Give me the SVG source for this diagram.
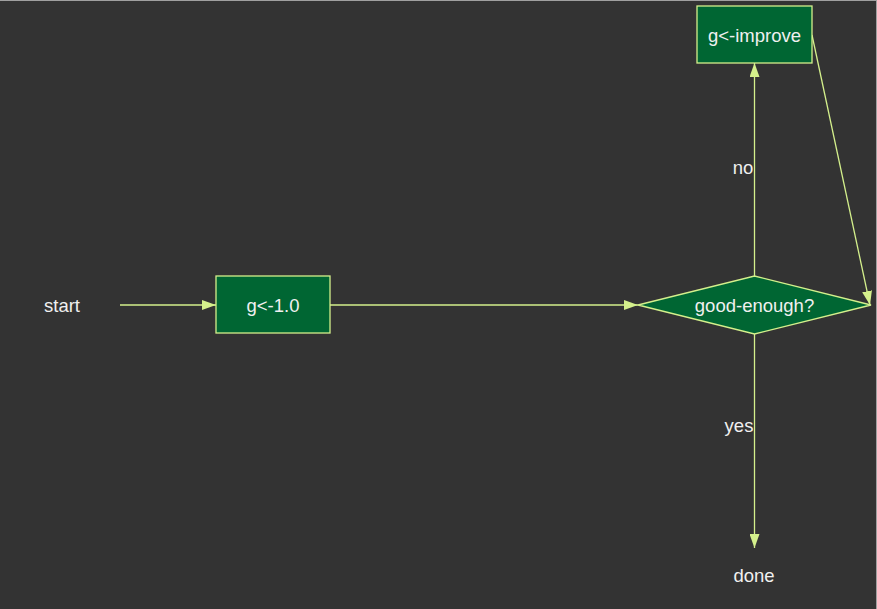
<svg xmlns="http://www.w3.org/2000/svg" width="877" height="609" viewBox="0 0 877 609">
  <style>
    .bg { fill: #333333; }
    .frame { stroke: #a0a0a0; stroke-width: 1; }
    .node { fill: #006633; stroke: #d4f08c; stroke-width: 1.3; }
    .edge { fill: none; stroke: #d4f08c; stroke-width: 1.3; }
    .label { font-family: "Liberation Sans", Arial, sans-serif; font-size: 18.5px; fill: #f0f0f0; text-anchor: middle; dominant-baseline: central; }
  </style>
  <defs>
    <marker id="arrow" viewBox="0 0 14 10" refX="14" refY="5" markerWidth="14" markerHeight="10" markerUnits="userSpaceOnUse" orient="auto">
      <path d="M0,0 L14,5 L0,10 Z" fill="#d4f08c"/>
    </marker>
  </defs>

  <rect class="bg" x="0" y="0" width="877" height="609"/>
  <line class="frame" x1="0" y1="0.5" x2="877" y2="0.5"/>
  <line class="frame" x1="876.5" y1="0" x2="876.5" y2="609"/>

  <g id="connectors">
    <line class="edge" x1="120" y1="305" x2="216" y2="305" marker-end="url(#arrow)"/>
    <line class="edge" x1="330" y1="305" x2="638" y2="305" marker-end="url(#arrow)"/>
    <line class="edge" x1="754.5" y1="276" x2="754.5" y2="63" marker-end="url(#arrow)"/>
    <line class="edge" x1="812" y1="35" x2="870" y2="305" marker-end="url(#arrow)"/>
    <line class="edge" x1="754.5" y1="334" x2="754.5" y2="548" marker-end="url(#arrow)"/>
    <text class="label" x="743" y="167">no</text>
    <text class="label" x="739" y="425">yes</text>
  </g>

  <g id="start">
    <text class="label" x="62" y="305">start</text>
  </g>

  <g id="init">
    <rect class="node" x="216" y="276" width="114" height="57"/>
    <text class="label" x="273" y="305">g&lt;-1.0</text>
  </g>

  <g id="improve">
    <rect class="node" x="697" y="6" width="115" height="57"/>
    <text class="label" x="754.5" y="35">g&lt;-improve</text>
  </g>

  <g id="good-enough">
    <polygon class="node" points="638,305 754.5,276 871,305 754.5,334"/>
    <text class="label" x="754.5" y="305">good-enough?</text>
  </g>

  <g id="done">
    <text class="label" x="754" y="575">done</text>
  </g>
</svg>
